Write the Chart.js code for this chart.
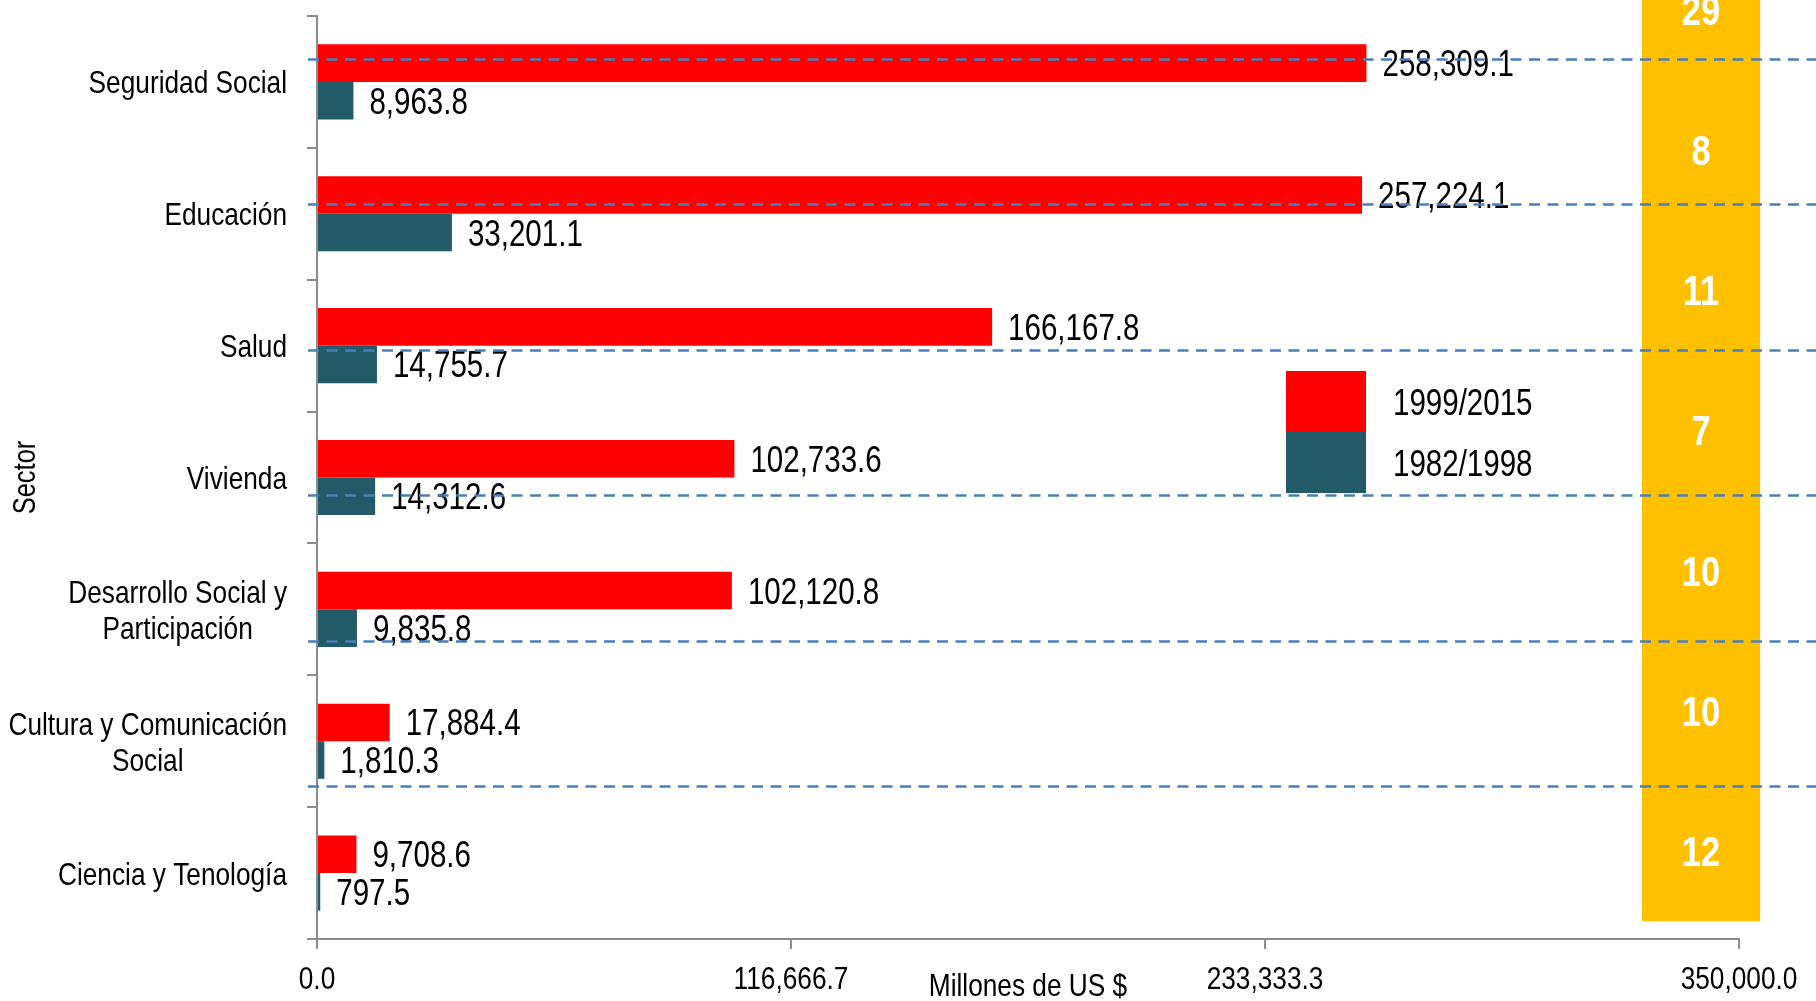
<!DOCTYPE html>
<html lang="es">
<head>
<meta charset="utf-8">
<title>Inversión por sector</title>
<script src="https://cdn.jsdelivr.net/npm/chart.js@4.4.1/dist/chart.umd.min.js"></script>
<style>
    html, body { margin: 0; padding: 0; background: #ffffff; }
    #contenedor { width: 1816px; height: 1001px; position: relative; }
</style>
</head>
<body>
<div id="contenedor"><canvas id="grafica"></canvas></div>
<script>
// --- Datos ---
const sectores = [
    ['Seguridad Social'],
    ['Educación'],
    ['Salud'],
    ['Vivienda'],
    ['Desarrollo Social y', 'Participación'],
    ['Cultura y Comunicación', 'Social'],
    ['Ciencia y Tenología']
];
const periodos = ['1999/2015', '1982/1998'];
const monto1999 = [258309.1, 257224.1, 166167.8, 102733.6, 102120.8, 17884.4, 9708.6];
const monto1982 = [8963.8, 33201.1, 14755.7, 14312.6, 9835.8, 1810.3, 797.5];
const cantidades = [29, 8, 11, 7, 10, 10, 12];
const ticksX = [0, 116666.7, 233333.3, 350000];
const tituloX = 'Millones de US $';
const tituloY = 'Sector';

// Fuente angosta: Liberation Sans comprimida horizontalmente (tipo Arial Narrow)
const FUENTE = '"Liberation Sans", Arial, sans-serif';
const ANGOSTO = 0.82;
const GRIS = '#8c8c8c';
const colores = ['#FF0000', '#235A67'];

const fmt = (v) => Number(v).toLocaleString('en-US', { minimumFractionDigits: 1, maximumFractionDigits: 1 });

function textoAngosto(ctx, texto, x, y, size, align, bold, rot) {
    ctx.save();
    ctx.font = (bold ? 'bold ' : '') + size + 'px ' + FUENTE;
    ctx.textAlign = align;
    ctx.textBaseline = 'alphabetic';
    ctx.translate(x, y);
    if (rot) ctx.rotate(rot);
    ctx.scale(ANGOSTO, 1);
    ctx.fillText(texto, 0, 0);
    ctx.restore();
}

function anchoAngosto(ctx, texto, size) {
    ctx.save();
    ctx.font = size + 'px ' + FUENTE;
    const w = ctx.measureText(texto).width * ANGOSTO;
    ctx.restore();
    return w;
}

// Posiciones del panel amarillo en unidades del eje de categorias
const panel = { xDesde: 326100, xHasta: 355200, fila0: -0.549, pasoFila: 1.0636, linea0: -0.176, pasoLinea: 1.1034 };

const extras = {
    id: 'extras',
    afterDatasetsDraw(chart) {
        const ctx = chart.ctx;
        ctx.fillStyle = '#000';
        chart.data.datasets.forEach((ds, d) => {
            chart.getDatasetMeta(d).data.forEach((bar, i) => {
                textoAngosto(ctx, fmt(ds.data[i]), bar.x + 16, bar.y + 13, 36, 'left');
            });
        });
    },
    afterDraw(chart) {
        const ctx = chart.ctx;
        const { x, y } = chart.scales;
        const area = chart.chartArea;
        ctx.save();
        ctx.fillStyle = '#000';

        // Etiquetas de sector (bloque alineado a la derecha, lineas centradas)
        const borde = y.right - 10 - 20;
        sectores.forEach((lineas, i) => {
            const cy = y.getPixelForValue(i);
            const anchoMax = Math.max(...lineas.map(l => anchoAngosto(ctx, l, 32)));
            const cx = borde - anchoMax / 2;
            lineas.forEach((l, k) => {
                const ly = cy + (k - (lineas.length - 1) / 2) * 36;
                textoAngosto(ctx, l, cx, ly + 11.5, 32, 'center');
            });
        });

        // Etiquetas del eje X y titulos
        x.ticks.forEach(t => {
            textoAngosto(ctx, fmt(t.value), x.getPixelForValue(t.value), x.top + 50, 32, 'center');
        });
        textoAngosto(ctx, tituloX, (area.left + area.right) / 2, x.top + 57, 32, 'center');
        textoAngosto(ctx, tituloY, 35, (area.top + area.bottom) / 2, 31, 'center', false, -Math.PI / 2);

        // Leyenda
        const lx = area.left + 969, ly = area.top + 355;
        periodos.forEach((p, k) => {
            ctx.fillStyle = colores[k];
            ctx.fillRect(lx, ly + k * 61, 80, 61);
            ctx.fillStyle = '#000';
            textoAngosto(ctx, p, lx + 107, ly + k * 61 + 31 + 13, 36, 'left');
        });

        // Columna amarilla con cantidades
        const x0 = x.getPixelForValue(panel.xDesde), x1 = x.getPixelForValue(panel.xHasta);
        const fila = (i) => y.getPixelForValue(panel.fila0 + panel.pasoFila * i);
        const yTop = fila(-0.5), yBot = fila(cantidades.length - 0.5);
        ctx.fillStyle = '#FFC000';
        ctx.fillRect(x0, yTop, x1 - x0, yBot - yTop);
        ctx.fillStyle = '#ffffff';
        cantidades.forEach((c, i) => {
            textoAngosto(ctx, String(c), (x0 + x1) / 2, fila(i) + 15, 42, 'center', true);
        });

        // Lineas punteadas
        ctx.strokeStyle = '#4A7EBB';
        ctx.lineWidth = 2.5;
        ctx.setLineDash([11, 7.5]);
        for (let j = 0; j < cantidades.length - 1; j++) {
            const py = Math.round(y.getPixelForValue(panel.linea0 + panel.pasoLinea * j)) + 0.5;
            ctx.beginPath();
            ctx.moveTo(area.left - 9, py);
            ctx.lineTo(chart.width, py);
            ctx.stroke();
        }
        ctx.restore();
    }
};

const chart = new Chart(document.getElementById('grafica'), {
    type: 'bar',
    data: {
        labels: sectores,
        datasets: [
            { label: periodos[0], data: monto1999, backgroundColor: colores[0], borderWidth: 0, categoryPercentage: 0.57, barPercentage: 1 },
            { label: periodos[1], data: monto1982, backgroundColor: colores[1], borderWidth: 0, categoryPercentage: 0.57, barPercentage: 1 }
        ]
    },
    options: {
        indexAxis: 'y',
        responsive: true,
        maintainAspectRatio: false,
        animation: false,
        layout: { padding: { top: 16, right: 77, bottom: 0, left: 0 } },
        plugins: { legend: { display: false }, tooltip: { enabled: false } },
        scales: {
            x: {
                min: 0,
                max: 350000,
                afterBuildTicks: (s) => { s.ticks = ticksX.map(v => ({ value: v })); },
                grid: { drawOnChartArea: false, drawTicks: true, tickLength: 10, color: GRIS, lineWidth: 2 },
                border: { color: GRIS, width: 2 },
                ticks: { display: false },
                afterFit: (s) => { s.height = 62; }
            },
            y: {
                offset: true,
                grid: { offset: true, drawOnChartArea: false, drawTicks: true, tickLength: 10, color: GRIS, lineWidth: 2 },
                border: { color: GRIS, width: 2 },
                ticks: { display: false },
                afterFit: (s) => { s.width = 317; }
            }
        }
    },
    plugins: [extras]
});
</script>
</body>
</html>
